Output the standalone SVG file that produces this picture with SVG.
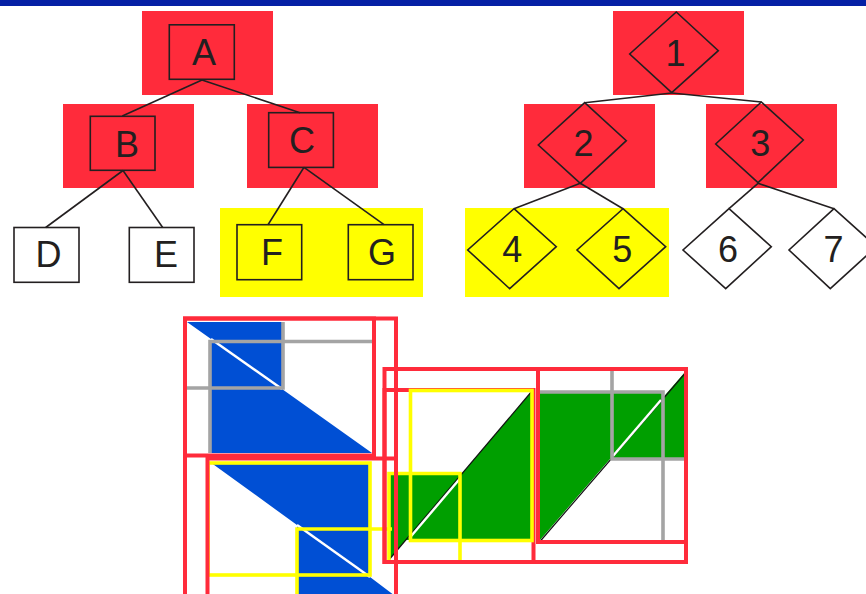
<svg xmlns="http://www.w3.org/2000/svg" width="866" height="594" viewBox="0 0 866 594">
<style>
.bgr{fill:#ff2b3b}
.bgy{fill:#ffff00}
.box{fill:none;stroke:#231f20;stroke-width:1.6}
.lbl{font-family:"Liberation Sans",Arial,sans-serif;font-size:36px;fill:#231f20;text-anchor:middle}
.edge{stroke:#231f20;stroke-width:1.6;fill:none}
.red{fill:none;stroke:#ff2b3b;stroke-width:4}
.yel{fill:none;stroke:#ffff00;stroke-width:3.6}
.gry{fill:none;stroke:#a4a4a4;stroke-width:3.6}
.blue{fill:#004fd4}
.green{fill:#009f00}
.stripe{stroke:#ffffff;stroke-width:2.4}
.diag{stroke:#111111;stroke-width:1.2}
</style>
<rect x="0" y="0" width="866" height="6" fill="#0520a5"/>
<g id="bg-left">
<rect class="bgr" x="142" y="11" width="131" height="84"/>
<rect class="bgr" x="63" y="104" width="131" height="84"/>
<rect class="bgr" x="247" y="104" width="131" height="84"/>
<rect class="bgy" x="220" y="208" width="203" height="89"/>
</g>
<g id="bg-right">
<rect class="bgr" x="613" y="11" width="131" height="84"/>
<rect class="bgr" x="524" y="104" width="131" height="84"/>
<rect class="bgr" x="706" y="104" width="131" height="84"/>
<rect class="bgy" x="465" y="208" width="204" height="89"/>
</g>
<g id="connectors">
<line class="edge" x1="202" y1="80" x2="122.3" y2="116"/>
<line class="edge" x1="202" y1="80" x2="300" y2="112.7"/>
<line class="edge" x1="123" y1="170.5" x2="45.7" y2="227.5"/>
<line class="edge" x1="123" y1="170.5" x2="162.7" y2="227.5"/>
<line class="edge" x1="304" y1="167.3" x2="268" y2="224.7"/>
<line class="edge" x1="304" y1="167.3" x2="384" y2="224.7"/>
<line class="edge" x1="671.7" y1="93" x2="584.7" y2="102.7"/>
<line class="edge" x1="671.7" y1="93" x2="761.3" y2="102"/>
<line class="edge" x1="580.3" y1="183.3" x2="514" y2="208.7"/>
<line class="edge" x1="580.3" y1="183.3" x2="623" y2="208.7"/>
<line class="edge" x1="758" y1="183.3" x2="729" y2="208.7"/>
<line class="edge" x1="758" y1="183.3" x2="834" y2="208.7"/>
</g>
<g id="node-A"><rect class="box" x="169.3" y="24.8" width="65" height="54.5"/><text class="lbl" x="204" y="65">A</text></g>
<g id="node-B"><rect class="box" x="90.3" y="116.3" width="64.7" height="54"/><text class="lbl" x="127" y="156.7">B</text></g>
<g id="node-C"><rect class="box" x="268.7" y="112.7" width="64.7" height="54.7"/><text class="lbl" x="302" y="152.7">C</text></g>
<g id="node-D"><rect class="box" x="14" y="227.5" width="65" height="54.8"/><text class="lbl" x="48.5" y="266.7">D</text></g>
<g id="node-E"><rect class="box" x="129.3" y="227.5" width="64.7" height="54.8"/><text class="lbl" x="166" y="266.7">E</text></g>
<g id="node-F"><rect class="box" x="237" y="224.7" width="64.7" height="55"/><text class="lbl" x="272" y="265">F</text></g>
<g id="node-G"><rect class="box" x="348.3" y="224.7" width="64.7" height="55"/><text class="lbl" x="382" y="265">G</text></g>
<g id="node-1"><polygon class="box" points="676.3,12 718.3,50.7 671.7,92.7 629.7,54"/><text class="lbl" x="675.5" y="65.7">1</text></g>
<g id="node-2"><polygon class="box" points="584.7,102.7 626.3,140.7 580.3,183.3 538.3,145"/><text class="lbl" x="583.5" y="156">2</text></g>
<g id="node-3"><polygon class="box" points="761.3,102 803.3,140 758,182.7 715.7,144"/><text class="lbl" x="760.2" y="156">3</text></g>
<g id="node-4"><polygon class="box" points="514,208.7 556.3,246.7 509.7,288.7 467.7,250"/><text class="lbl" x="512.2" y="261.7">4</text></g>
<g id="node-5"><polygon class="box" points="623,208.7 665.7,246.7 619,288.7 577,250"/><text class="lbl" x="622.2" y="262">5</text></g>
<g id="node-6"><polygon class="box" points="729,208.7 771.3,246.7 725.7,288.7 683,250"/><text class="lbl" x="728" y="262">6</text></g>
<g id="node-7"><polygon class="box" points="834,208.7 876.3,246.7 830.3,288.7 789,250"/><text class="lbl" x="833.5" y="262">7</text></g>
<g id="matrix">
<polygon class="blue" points="187,322 282,322 282,389 372,453 211,453 211,339"/>
<line class="stripe" x1="211" y1="339" x2="282" y2="389"/>
<polygon class="blue" points="210,462 370,462 370,577 392.5,594 297,594 297,525"/>
<line class="stripe" x1="297" y1="525" x2="370" y2="577"/>
<polygon class="green" points="388,473 462.5,473 532,391 532,540 405.8,540 388,561"/>
<line class="diag" x1="388" y1="561" x2="532" y2="391"/>
<line class="stripe" x1="409.5" y1="538" x2="460" y2="478.5"/>
<polygon class="green" points="540,392 663,392 663,397.5 685,372 686,372 686,459 610,459 540,540"/>
<line class="diag" x1="540.8" y1="540.5" x2="685.8" y2="372.5"/>
<line class="stripe" x1="613" y1="456" x2="661" y2="400"/>
<path class="gry" d="M187,388 H283 V322"/>
<path class="gry" d="M210,453 V341.5 H372"/>
<path class="gry" d="M540,392 H663 V542"/>
<path class="gry" d="M612,371 V459 H686"/>
<path class="yel" d="M392,529 H297 V600"/>
<rect class="red" x="384.5" y="369" width="301.5" height="193"/>
<rect class="red" x="384.5" y="390" width="149" height="172"/>
<rect class="red" x="538" y="369" width="148" height="173"/>
<rect class="yel" x="410.5" y="390.5" width="121.5" height="150"/>
<path class="yel" d="M389,560 V473.5 H460 V560"/>
<rect class="yel" x="208" y="463" width="162" height="112"/>
<rect class="red" x="185" y="318.5" width="211" height="290"/>
<rect class="red" x="185" y="318.5" width="189" height="137"/>
<rect class="red" x="207.5" y="458.5" width="188.5" height="150"/>
</g>
</svg>
